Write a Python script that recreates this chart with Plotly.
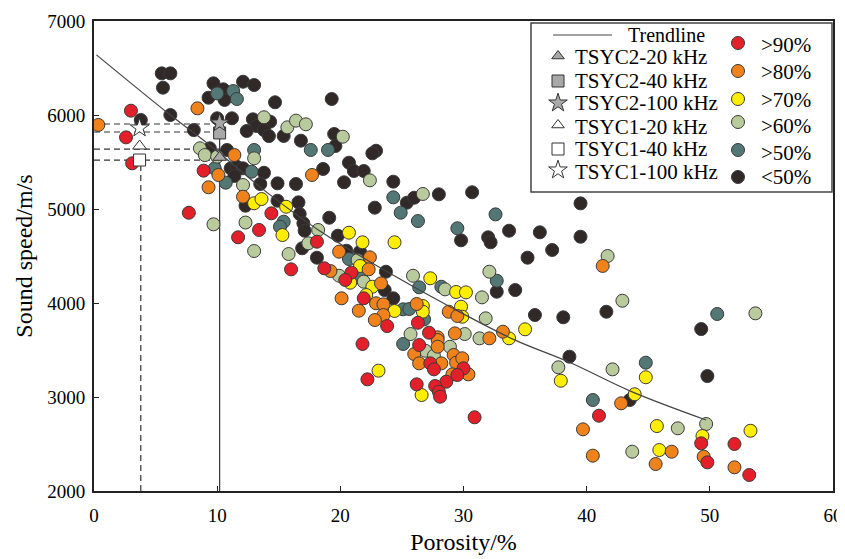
import plotly.graph_objects as go

# ---------------- data ----------------
por_90 = [3.0, 2.6, 3.1, 8.9, 7.7, 14.4, 13.4, 11.7, 18.1, 16.0, 18.7, 20.9, 20.4, 21.9, 23.8, 26.3, 27.2,
          21.8, 26.4, 27.3, 27.6, 28.6, 27.7, 28.0, 28.1, 26.2, 22.2, 30.0, 29.5, 30.9, 41.0, 49.3, 52.0, 49.8, 53.2]
vel_90 = [6046, 5762, 5486, 5408, 4960, 4954, 4777, 4699, 4652, 4358, 4369, 4323, 4245, 4050, 3755, 3790, 3684,
          3564, 3553, 3358, 3294, 3163, 3117, 3056, 3003, 3135, 3188, 3305, 3234, 2784, 2801, 2507, 2500, 2305, 2170]

por_80 = [0.35, 8.4, 11.4, 10.1, 9.3, 12.1, 17.7, 19.9, 22.4, 22.3, 19.2, 20.1, 23.3, 22.9, 23.5, 21.5, 23.5,
          22.8, 26.2, 28.8, 29.5, 27.9, 29.3, 41.3, 33.2, 32.1, 27.9, 27.9, 26.0, 26.4, 28.2, 29.2, 29.4, 29.1,
          29.9, 30.4, 42.8, 39.7, 40.5, 46.9, 45.6, 49.5, 52.0]
vel_80 = [5894, 6071, 5574, 5362, 5231, 5131, 5362, 4546, 4486, 4358, 4340, 4050, 4209, 3997, 3986, 3918, 3872,
          3819, 3989, 3907, 3862, 3635, 3677, 4394, 3695, 3624, 3606, 3535, 3457, 3358, 3358, 3447, 3365, 3241,
          3412, 3241, 2933, 2656, 2376, 2418, 2287, 2365, 2252]

por_70 = [13.0, 13.6, 15.6, 15.3, 20.7, 21.8, 24.4, 21.6, 20.8, 22.6, 22.1, 24.4, 26.7, 26.7, 27.3, 29.4, 30.2,
          29.8, 29.9, 35.0, 33.7, 23.1, 26.6, 37.9, 43.9, 44.8, 45.7, 49.4, 53.3, 45.9]
vel_70 = [5061, 5106, 5024, 4723, 4748, 4646, 4646, 4394, 4216, 4173, 4085, 3915, 3968, 3907, 4263, 4117, 4113,
          3961, 3854, 3720, 3624, 3280, 3021, 3173, 3029, 3210, 2691, 2585, 2641, 2436]

por_60 = [13.8, 8.6, 9.0, 10.0, 13.0, 12.1, 15.7, 16.4, 17.2, 20.2, 22.4, 26.7, 9.7, 12.3, 13.0, 18.2, 17.4,
          15.8, 21.4, 19.9, 21.9, 25.9, 28.5, 25.7, 41.7, 32.1, 31.5, 31.8, 42.9, 30.1, 31.3, 26.9, 27.6, 28.9,
          37.7, 42.1, 43.7, 47.4, 49.7, 53.7]
vel_60 = [5976, 5646, 5574, 5557, 5539, 5255, 5869, 5940, 5901, 5769, 5305, 5160, 4837, 4856, 4553, 4777, 4635,
          4521, 4457, 4290, 4227, 4290, 4145, 3670, 4500, 4333, 4060, 3837, 4024, 3670, 3624, 3492, 3439, 3535,
          3316, 3294, 2418, 2667, 2713, 3890]

por_50 = [10.0, 11.3, 11.6, 13.0, 9.8, 12.8, 10.7, 17.6, 19.0, 24.3, 24.9, 26.3, 29.5, 15.4, 15.1, 20.7, 21.6,
          25.1, 25.6, 26.8, 26.4, 28.2, 32.6, 32.7, 25.1, 40.5, 44.8, 50.6]
vel_50 = [6230, 6255, 6170, 5628, 5433, 5397, 5280, 5628, 5628, 5124, 4961, 4872, 4795, 4865, 4812, 4468, 4280,
          3933, 3936, 3826, 4167, 4173, 4943, 4237, 3564, 2968, 3365, 3883]

por_lt50 = [5.5, 6.2, 5.6, 3.8, 6.2, 9.7, 10.5, 10.6, 9.3, 12.1, 13.0, 14.7, 10.0, 11.2, 8.1, 12.9, 14.3, 13.2,
            12.4, 13.8, 14.2, 9.4, 10.8, 11.1, 11.6, 12.1, 11.4, 13.8, 13.5, 14.9, 19.3, 15.4, 16.8, 19.5, 19.6,
            22.9, 22.6, 18.6, 20.7, 21.1, 21.9, 24.3, 20.3, 16.4, 28.0, 30.7, 25.4, 26.0, 22.8, 14.9, 16.6, 16.7,
            19.1, 17.0, 17.1, 19.8, 16.9, 18.1, 20.5, 21.6, 23.7, 23.6, 24.3, 29.8, 39.5, 32.0, 32.2, 33.7, 36.2,
            39.5, 37.2, 35.2, 32.7, 34.2, 35.8, 38.1, 41.6, 38.6, 43.5, 49.3, 49.8, 12.3]
vel_lt50 = [6443, 6443, 6291, 5947, 6000, 6337, 6273, 6160, 6184, 6354, 6319, 6135, 5965, 5965, 5840, 5954, 5929,
            5883, 5830, 5840, 5776, 5646, 5628, 5433, 5450, 5433, 5351, 5386, 5266, 5273, 6170, 5777, 5727, 5798,
            5670, 5620, 5592, 5426, 5493, 5404, 5404, 5291, 5284, 5266, 5156, 5178, 5067, 5120, 5014, 5088, 5071,
            4947, 4907, 4848, 4769, 4716, 4582, 4482, 4556, 4546, 4333, 4138, 4050, 4667, 5060, 4699, 4646, 4769,
            4752, 4705, 4564, 4482, 4120, 4138, 3872, 3848, 3907, 3429, 2968, 3723, 3223, 5035]

trend_x = [0.2, 6.2, 9.2, 14.3, 18.4, 23.7, 28.9, 34.1, 38.6, 43.6, 49.7]
trend_y = [6640, 6000, 5700, 5150, 4760, 4340, 3960, 3610, 3370, 3060, 2755]

ref_names = ["TSYC2-20 kHz", "TSYC2-40 kHz", "TSYC2-100 kHz", "TSYC1-20 kHz", "TSYC1-40 kHz", "TSYC1-100 kHz"]
ref_por = [10.2, 10.2, 10.2, 3.7, 3.7, 3.7]
ref_vel = [5550, 5809, 5915, 5670, 5521, 5862]

guide_levels = [5904, 5819, 5638, 5521]

sat_names = [">90%", ">80%", ">70%", ">60%", ">50%", "<50%"]
sat_colors = ["#E3202A", "#F0821C", "#FFEE00", "#B9CA9D", "#527775", "#302927"]

# ---------------- figure ----------------
FONT = "Liberation Serif"
fig = go.Figure()

# guide lines
for lv in guide_levels:
    fig.add_trace(go.Scatter(x=[0, 10.2], y=[lv, lv], mode="lines",
                             line=dict(color="#333", width=1.2, dash="6px,4px"),
                             showlegend=False, hoverinfo="skip"))
fig.add_trace(go.Scatter(x=[3.8, 3.8], y=[2000, 5521], mode="lines",
                         line=dict(color="#333", width=1.2, dash="6px,4px"),
                         showlegend=False, hoverinfo="skip"))
fig.add_trace(go.Scatter(x=[10.2, 10.2], y=[2000, 5915], mode="lines",
                         line=dict(color="#333", width=1.2),
                         showlegend=False, hoverinfo="skip"))

series = [(por_lt50, vel_lt50, 5), (por_50, vel_50, 4), (por_60, vel_60, 3),
          (por_70, vel_70, 2), (por_80, vel_80, 1), (por_90, vel_90, 0)]
for xs, ys, i in series:
    fig.add_trace(go.Scatter(x=xs, y=ys, mode="markers", name=sat_names[i],
                             marker=dict(size=13, color=sat_colors[i],
                                         line=dict(color="#3a3a3a", width=1)),
                             showlegend=False))

# trendline
fig.add_trace(go.Scatter(x=trend_x, y=trend_y, mode="lines", name="Trendline",
                         line=dict(color="#444", width=1.2, shape="spline"), showlegend=False))

ref_symbols = ["triangle-up", "square", "star", "triangle-up", "square", "star"]
ref_fill = ["#A8A8A8", "#A8A8A8", "#A8A8A8", "white", "white", "white"]
ref_sizes = [12, 12, 14, 12, 12, 14]
for i in range(6):
    fig.add_trace(go.Scatter(x=[ref_por[i]], y=[ref_vel[i]], mode="markers", name=ref_names[i],
                             marker=dict(symbol=ref_symbols[i], size=ref_sizes[i], color=ref_fill[i],
                                         line=dict(color="#333", width=1)),
                             showlegend=False))

# ---------------- hand-built legend (pixel overlay axes) ----------------
leg_sym_y = [56, 81, 103, 125, 149, 170]
leg_txt_y = [57, 81, 103, 127, 149, 172]
leg_sym_size = [11, 12, 14, 11, 12, 14]
for i in range(6):
    fig.add_trace(go.Scatter(x=[558], y=[leg_sym_y[i]], xaxis="x2", yaxis="y2", mode="markers",
                             marker=dict(symbol=ref_symbols[i], size=leg_sym_size[i], color=ref_fill[i],
                                         line=dict(color="#333", width=1)),
                             showlegend=False, hoverinfo="skip"))
fig.add_trace(go.Scatter(x=[553, 612], y=[35, 35], xaxis="x2", yaxis="y2", mode="lines",
                         line=dict(color="#444", width=1.2), showlegend=False, hoverinfo="skip"))
sat_sym_y = [43, 71, 99, 122, 150, 177]
sat_txt_y = [45, 72, 100, 126, 153, 177]
for i in range(6):
    fig.add_trace(go.Scatter(x=[738], y=[sat_sym_y[i]], xaxis="x2", yaxis="y2", mode="markers",
                             marker=dict(size=13, color=sat_colors[i], line=dict(color="#3a3a3a", width=1)),
                             showlegend=False, hoverinfo="skip"))

LF = 21
annotations = [dict(x=626, y=35, xref="x2", yref="y2", text="Trendline", showarrow=False,
                    xanchor="left", yanchor="middle", font=dict(family=FONT, size=20, color="black"))]
for i in range(6):
    annotations.append(dict(x=573, y=leg_txt_y[i], xref="x2", yref="y2", text=ref_names[i], showarrow=False,
                            xanchor="left", yanchor="middle", font=dict(family=FONT, size=LF, color="black")))
    annotations.append(dict(x=759, y=sat_txt_y[i], xref="x2", yref="y2", text=sat_names[i], showarrow=False,
                            xanchor="left", yanchor="middle", font=dict(family=FONT, size=LF, color="black")))

# the page body adds an 8px offset, so the figure is 8px smaller and margins compensate
fig.update_layout(
    width=837, height=551,
    margin=dict(l=86, r=12, t=13, b=68),
    paper_bgcolor="white", plot_bgcolor="white",
    showlegend=False,
    font=dict(family=FONT, color="black"),
    xaxis=dict(range=[0, 60], tickvals=[0, 10, 20, 30, 40, 50, 60], ticks="inside", ticklen=5,
               tickcolor="#222", showgrid=False, zeroline=False, showline=True, linecolor="#222",
               linewidth=2, mirror=True, tickfont=dict(family=FONT, size=19, color="black"),
               ticklabelstandoff=6, automargin=False,
               title=dict(text="Porosity/%", font=dict(family=FONT, size=24, color="black"), standoff=8)),
    yaxis=dict(range=[2000, 7000], tickvals=[2000, 3000, 4000, 5000, 6000, 7000], ticks="inside",
               ticklen=5, tickcolor="#222", showgrid=False, zeroline=False, showline=True,
               linecolor="#222", linewidth=2, mirror=True, automargin=False,
               tickfont=dict(family=FONT, size=19, color="black"), ticklabelstandoff=3,
               title=dict(text="Sound speed/m/s", font=dict(family=FONT, size=24, color="black"), standoff=8)),
    xaxis2=dict(overlaying="x", range=[94, 833], visible=False, fixedrange=True),
    yaxis2=dict(overlaying="y", range=[491, 21], visible=False, fixedrange=True),
    annotations=annotations,
    shapes=[dict(type="rect", xref="x2", yref="y2", x0=531, x1=832, y0=23, y1=192,
                 line=dict(color="#444", width=1.5), fillcolor="rgba(0,0,0,0)", layer="below")],
)

fig.write_html("out.html")
